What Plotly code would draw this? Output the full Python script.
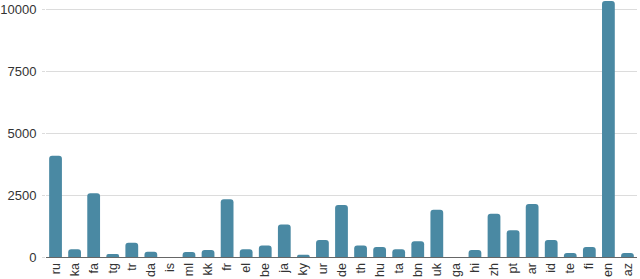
import plotly.graph_objects as go

categories = ["ru", "ka", "fa", "tg", "tr", "da", "is", "ml", "kk", "fr", "el", "be", "ja", "ky",
              "ur", "de", "th", "hu", "ta", "bn", "uk", "ga", "hi", "zh", "pt", "ar", "id", "te",
              "fi", "en", "az"]
values = [4100, 310, 2580, 120, 580, 215, 0, 200, 280, 2335, 310, 470, 1320, 95,
          690, 2105, 470, 405, 310, 635, 1915, 0, 280, 1755, 1080, 2145, 690, 160,
          405, 10364, 160]
y_ticks = [0, 2500, 5000, 7500, 10000]

fig = go.Figure(go.Bar(
    x=categories, y=values,
    marker=dict(color="#4a89a3", line=dict(width=0), cornerradius=3),
))
fig.update_layout(
    width=640, height=279,
    margin=dict(l=46, r=3, t=0, b=22, autoexpand=False),
    plot_bgcolor="white", paper_bgcolor="white",
    bargap=0.33, showlegend=False,
    font=dict(family="Liberation Sans, Arial, sans-serif", size=12, color="#333"),
)
fig.update_xaxes(
    type="category", tickangle=-90, showgrid=False, automargin=False,
    showline=True, linecolor="#666", linewidth=1, ticks="",
    tickfont=dict(size=12.5, color="#333"),
)
fig.update_yaxes(
    range=[0, 10400], tickvals=y_ticks, ticktext=[str(v) for v in y_ticks],
    showgrid=True, gridcolor="#dcdcdc", gridwidth=1, zeroline=False,
    automargin=False, ticks="outside", ticklen=3, tickcolor="#dcdcdc",
    ticklabelstandoff=3,
    tickfont=dict(size=13, color="#333"),
)
fig.write_html("out.html", config={"displayModeBar": False},
               post_script="document.body.style.margin='0';document.body.style.overflow='hidden';")
